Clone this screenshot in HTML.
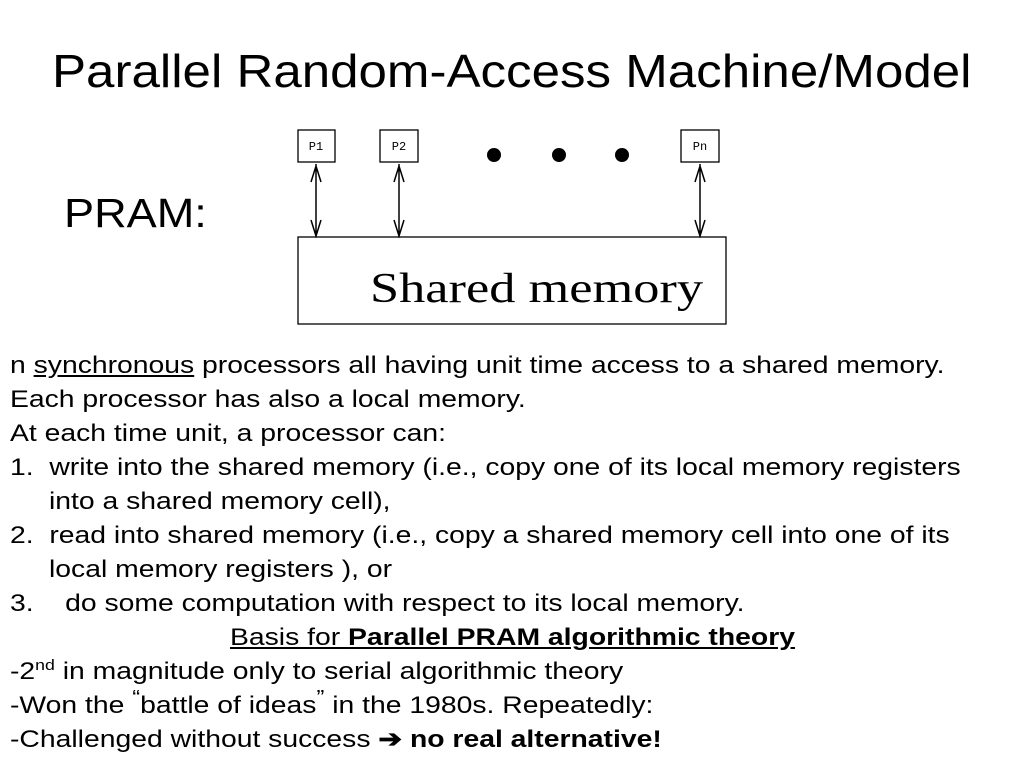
<!DOCTYPE html>
<html><head><style>
body{margin:0;width:1024px;height:768px;background:#fff;font-family:"Liberation Sans",Arial,sans-serif;color:#000;position:relative;overflow:hidden}
.t{position:absolute;white-space:nowrap;transform-origin:0 0}
.l{position:absolute;left:10px;font-size:24px;white-space:nowrap;line-height:26px;transform:scaleX(1.18);transform-origin:0 0}
sup{line-height:0}
</style></head><body>
<div class="t" style="left:52px;top:44px;font-size:46px;transform:scaleX(1.11)">Parallel Random-Access Machine/Model</div>
<div class="t" style="left:64px;top:190px;font-size:41px;transform:scaleX(1.1)">PRAM:</div>
<svg style="position:absolute;left:0;top:0" width="1024" height="768">
<g fill="#fff" stroke="#000" stroke-width="1.3">
<rect x="298" y="130" width="37" height="32"/>
<rect x="380" y="130" width="38" height="32"/>
<rect x="681" y="130" width="38" height="32"/>
<rect x="298" y="237" width="428" height="87"/>
</g>
<g font-family="Liberation Mono,monospace" font-size="12" text-anchor="middle">
<text x="316" y="150">P1</text><text x="399" y="150">P2</text><text x="700" y="150">Pn</text>
</g>
<g fill="#000"><circle cx="494" cy="155" r="7"/><circle cx="559" cy="155" r="7"/><circle cx="622" cy="155" r="7"/></g>
<g stroke="#000" stroke-width="1.5" fill="none">
<path d="M316 164V237M311 182L316 166L321 182M311 220L316 236L321 220"/>
<path d="M399 164V237M394 182L399 166L404 182M394 220L399 236L404 220"/>
<path d="M700 164V237M695 182L700 166L705 182M695 220L700 236L705 220"/>
</g>
<text x="370" y="302" font-family="Liberation Serif,serif" font-size="42" textLength="333" lengthAdjust="spacingAndGlyphs">Shared  memory</text>
</svg>
<div class="l" style="top:353px">n <u>synchronous</u> processors all having unit time access to a shared memory.</div>
<div class="l" style="top:387px">Each processor has also a local memory.</div>
<div class="l" style="top:421px">At each time unit, a processor can:</div>
<div class="l" style="top:455px">1.&nbsp; write into the shared memory (i.e., copy one of its local memory registers</div>
<div class="l" style="top:489px;left:49px">into a shared memory cell),</div>
<div class="l" style="top:523px">2.&nbsp; read into shared memory (i.e., copy a shared memory cell into one of its</div>
<div class="l" style="top:557px;left:49px">local memory registers ), or</div>
<div class="l" style="top:591px">3.&nbsp;&nbsp;&nbsp; do some computation with respect to its local memory.</div>
<div class="l" style="top:625px;left:230px"><u>Basis for <b>Parallel PRAM algorithmic theory</b></u></div>
<div class="l" style="top:659px">-2<sup style="font-size:15px">nd</sup> in magnitude only to serial algorithmic theory</div>
<div class="l" style="top:693px">-Won the <sup>“</sup>battle of ideas<sup>”</sup> in the 1980s. Repeatedly:</div>
<div class="l" style="top:727px">-Challenged without success <b>➔ no real alternative!</b></div>
</body></html>
